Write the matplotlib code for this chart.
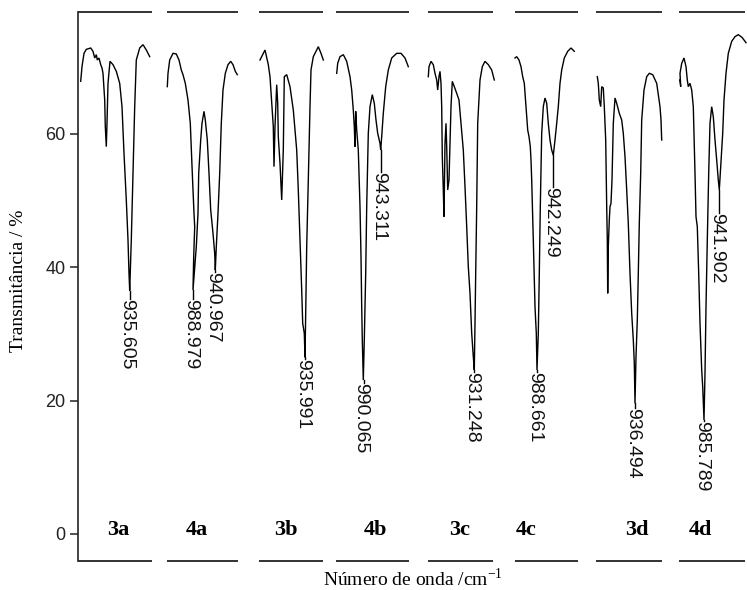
import matplotlib
matplotlib.use("Agg")
import matplotlib.pyplot as plt
from matplotlib.transforms import offset_copy

plt.rcParams["mathtext.fontset"] = "custom"
plt.rcParams["mathtext.rm"] = "Liberation Serif"

# ---- spectra (x: position along the strip, y: transmittance %) ----
x_3a = [2.7, 4, 6, 8.3, 12.7, 15, 16.7, 18.3, 19.3, 21, 22.7, 24, 25, 26.7, 27.3, 28.3, 29, 30, 32,
        35, 38.3, 41.7, 44, 46, 48.3, 50, 51, 51.7, 53.3, 55, 56.7, 58.3, 61.7, 65, 68.3, 71.7]
y_3a = [67.9, 70.1, 72.1, 72.7, 72.9, 72.4, 71.4, 71.9, 71.1, 71.4, 70.4, 69.9, 69.1, 65.1, 61.1, 58.1, 61.6, 67.6, 70.9,
        70.4, 69.4, 67.6, 64.1, 57.1, 50.1, 44.1, 39.1, 36.5, 44.1, 54.1, 64.1, 71.1, 72.9, 73.4, 72.6, 71.6]

x_4a = [89.3, 90, 91.7, 95, 98.3, 101, 103.3, 105, 107.3, 110, 112.3, 114.3, 116, 116.7, 115.7, 115,
        118.3, 120, 120.7, 122.7, 124, 126, 127.3, 129.3, 131, 132.7, 135, 136.7, 137.3,
        138.3, 140, 141.7, 143.3, 145, 147.3, 150, 152.7, 155, 157.3, 159.3]
y_4a = [67.1, 69.1, 71.1, 72.1, 72.0, 71.1, 69.6, 68.9, 67.6, 65.1, 61.6, 54.1, 48.1, 46.1, 41.6, 36.6,
        43.1, 48.1, 54.1, 59.1, 61.6, 63.4, 62.1, 59.1, 54.1, 48.6, 45.1, 42.1, 39.6,
        43.1, 48.1, 54.1, 61.6, 66.6, 69.1, 70.4, 70.9, 70.4, 69.4, 68.9]

x_3b = [182, 187, 190.3, 192, 195.3, 196, 197, 198.7, 199.7, 200.3, 202, 203.7, 205.3, 206.3, 208.7,
        212, 215.3, 218.7, 220.3, 222, 223.7, 224.7, 226.3, 227, 227.7, 228.7, 230.3, 232, 233,
        235.3, 238.7, 240.3, 243, 245.3]
y_3b = [71.1, 72.6, 70.4, 68.6, 61.1, 55.1, 61.1, 67.4, 64.6, 59.6, 55.6, 50.1, 57.6, 68.6, 68.9,
        67.1, 63.6, 57.6, 51.6, 44.1, 36.6, 31.6, 30.1, 26.5, 33.1, 43.1, 53.1, 64.1, 69.6,
        71.6, 72.6, 73.1, 72.1, 71.1]

x_4b = [258.7, 259.7, 262, 265.3, 268.7, 272, 273.7, 275.3, 276.3, 277, 277.7, 278.7, 280.3, 282, 283,
        283.7, 284.3, 285.3, 286.3, 287.7, 288.7, 290.3, 292, 294.3, 296.3, 298, 299.7, 302, 302.7,
        303.7, 305.3, 307.7, 310.3, 313.7, 318.7, 323, 327, 330.3]
y_4b = [69.1, 70.6, 71.6, 71.9, 70.9, 68.6, 66.6, 63.6, 61.1, 58.1, 63.4, 60.6, 57.6, 49.1, 41.6,
        34.1, 29.1, 23.1, 29.1, 39.1, 49.1, 60.1, 64.1, 65.9, 64.6, 62.1, 60.1, 58.6, 57.6,
        59.6, 63.1, 67.1, 69.6, 71.4, 72.1, 72.1, 71.4, 70.1]

x_3c = [350.3, 351, 353, 355.3, 357, 358.7, 359.7, 361, 362, 363, 363.7, 364.3, 365.3, 366, 367, 368,
        368.7, 369.7, 371, 372, 373, 374.3, 376.3, 378.7, 381, 383, 385.3, 387, 388.7, 390.3, 392,
        393.7, 395.3, 396.3, 397, 397.7, 398.7, 399.7, 402, 404.3, 407, 410.3, 413.7, 416.3]
y_3c = [68.6, 70.1, 70.9, 70.4, 69.1, 68.1, 66.6, 68.6, 69.4, 67.6, 64.1, 56.6, 51.6, 47.6, 58.6, 61.6,
        58.1, 51.6, 53.1, 58.6, 64.1, 67.9, 67.1, 66.1, 65.1, 61.6, 57.6, 52.1, 46.1, 40.1, 36.1,
        30.1, 26.6, 24.6, 31.6, 39.1, 49.1, 61.6, 68.1, 70.1, 70.9, 70.4, 69.6, 68.1]

x_4c = [437, 438.7, 441, 443, 444.7, 446.3, 448, 449.7, 451, 452.3, 453, 453.7, 455.3, 457, 458.3, 459,
        460.3, 461.3, 462.3, 463.7, 465.3, 467, 468.7, 470.3, 472, 473.7, 475.3, 477, 478.7, 480.3,
        482, 483.7, 486.3, 489.7, 493, 496.3]
y_4c = [71.4, 71.6, 71.1, 70.1, 68.6, 67.6, 64.1, 60.6, 59.6, 58.1, 56.1, 53.1, 44.1, 34.1, 30.1, 24.6,
        30.1, 39.1, 49.1, 60.1, 64.1, 65.4, 64.6, 61.6, 59.1, 57.6, 56.8, 59.1, 61.6, 64.1,
        67.6, 69.6, 71.4, 72.4, 72.9, 72.4]

x_3d = [519.3, 520.3, 521.3, 522.7, 523.7, 525.3, 526.3, 527.7, 528.7, 529.3, 529.7, 530.3, 531.3, 532,
        533, 534, 535.3, 537, 538.7, 541.3, 543.7, 545.3, 547, 548.7, 550.3, 552, 553.7, 555.3, 556.3,
        557, 558, 559.3, 560.3, 561.3, 562.7, 563.7, 566, 568.7, 571.3, 574.7, 578.7, 582, 583, 583.7]
y_3d = [68.6, 67.6, 65.1, 64.1, 67.1, 66.9, 64.1, 59.1, 49.1, 44.1, 36.1, 43.1, 47.1, 49.1,
        49.6, 53.1, 61.6, 65.4, 64.6, 63.1, 62.1, 60.1, 56.6, 51.6, 46.6, 39.1, 33.1, 29.1, 25.6,
        19.6, 26.6, 32.1, 39.1, 46.6, 54.1, 62.1, 66.6, 68.6, 69.1, 68.9, 67.6, 64.1, 62.1, 59.1]

x_4d = [602, 602.7, 602, 603.7, 606, 608, 609.3, 610.3, 612, 613.7, 615.3, 617, 618, 619.3, 620.7, 622,
        623.7, 624.7, 626, 627, 628, 629.3, 630.7, 632, 633.7, 635.3, 637, 638.7, 640.3, 641.3, 642.7,
        644.7, 646, 648, 650.3, 653.7, 657, 660.3, 664, 668]
y_4d = [68.1, 67.1, 69.1, 70.6, 71.4, 70.1, 68.1, 67.1, 67.6, 66.6, 64.1, 54.1, 47.6, 46.1, 39.1, 31.6,
        24.6, 22.1, 17.1, 24.1, 34.1, 44.1, 54.1, 61.6, 64.1, 62.6, 59.1, 56.1, 53.1, 51.6, 55.1,
        60.1, 65.1, 69.1, 72.1, 73.9, 74.6, 74.9, 74.5, 73.7]

spectra = [(x_3a, y_3a), (x_4a, y_4a), (x_3b, y_3b), (x_4b, y_4b),
           (x_3c, y_3c), (x_4c, y_4c), (x_3d, y_3d), (x_4d, y_4d)]

# ---- strip extents for the broken frame ----
seg_start = [0, 89, 181, 258, 350, 437, 518, 601]
seg_end = [74, 160, 245, 331, 415, 500, 584, 667]

# ---- sample names ----
sample_names = ["3a", "4a", "3b", "4b", "3c", "4c", "3d", "4d"]
sample_x = [40, 119, 208, 297, 382, 448, 559, 622]
sample_y = 0.6

# ---- peak annotations ----
peak_text = ["935.605", "988.979", "940.967", "935.991", "990.065", "943.311",
             "931.248", "988.661", "942.249", "936.494", "985.789", "941.902"]
peak_x = [51.5, 115, 137, 227, 285.5, 302.7, 396.3, 459, 475.3, 557, 626, 641.3]
peak_y = [36.5, 36.6, 39.6, 26.5, 23.1, 57.6, 24.6, 24.6, 56.8, 19.6, 17.1, 51.6]
peak_text_y = [35.3, 35.3, 39.3, 26.3, 22.6, 54.3, 24.3, 24.3, 52.1, 18.9, 17.0, 48.1]

yticks = [0, 20, 40, 60]
ylo, yhi = -4.05, 78.3
xlo, xhi = 0, 669

fig = plt.figure(figsize=(7.47, 5.90), dpi=100)
ax = fig.add_axes([78 / 747, 29 / 590, 669 / 747, 549 / 590])

for xs, ys in spectra:
    ax.plot(xs, ys, color="black", lw=1.0, solid_joinstyle="miter")

# rotated labels: shift the baseline left so the digits sit centred on the marker line
label_size = 14
label_trans = offset_copy(ax.transData, fig=fig, x=-0.36 * label_size, y=0, units="points")
for px, py, ty, txt in zip(peak_x, peak_y, peak_text_y, peak_text):
    ax.plot([px, px], [py, ty], color="black", lw=1.0)
    ax.text(px, ty, txt, rotation=270, rotation_mode="anchor", ha="left", va="baseline",
            fontsize=label_size, family="Liberation Sans", color="#111111",
            transform=label_trans)

for name, sx in zip(sample_names, sample_x):
    ax.text(sx, sample_y, name, ha="center", va="center", fontsize=16,
            family="Liberation Serif", fontweight="bold", color="black")

ax.hlines([yhi] * len(seg_start), seg_start, seg_end, colors="#222222", lw=1.3, clip_on=False)
ax.hlines([ylo] * len(seg_start), seg_start, seg_end, colors="#222222", lw=1.3, clip_on=False)

ax.set_xlim(xlo, xhi)
ax.set_ylim(ylo, yhi)
for side in ("top", "right", "bottom"):
    ax.spines[side].set_visible(False)
ax.spines["left"].set_linewidth(1.2)
ax.spines["left"].set_color("#222222")
ax.set_xticks([])
ax.set_yticks(yticks)
ax.tick_params(axis="y", direction="out", length=6, width=1.1, pad=3, labelsize=13, colors="#222222")
for lab in ax.get_yticklabels():
    lab.set_family("Liberation Sans")

ax.set_ylabel("Transmitância / %", family="Liberation Serif", fontsize=14)
ax.yaxis.set_label_coords(-0.076, 0.51)
ax.set_xlabel(r"Número de onda /cm$^{\mathrm{-1}}$", family="Liberation Serif", fontsize=14, labelpad=5)

fig.savefig("out.png", dpi=100, facecolor="white")
